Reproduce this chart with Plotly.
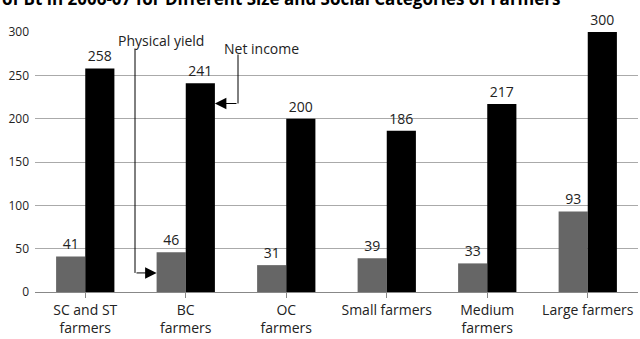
import plotly.graph_objects as go

categories = ["SC and ST<br>farmers", "BC<br>farmers", "OC<br>farmers",
              "Small farmers", "Medium<br>farmers", "Large farmers"]
physical_yield = [41, 46, 31, 39, 33, 93]
net_income = [258, 241, 200, 186, 217, 300]
title_text = "of Bt in 2006-07 for Different Size and Social Categories of Farmers"

FONT = "Open Sans"
idx = list(range(len(categories)))

fig = go.Figure()
fig.add_trace(go.Bar(x=idx, y=physical_yield, name="Physical yield",
                     marker=dict(color="#666666", line=dict(width=0)),
                     text=physical_yield, textposition="outside",
                     textfont=dict(family=FONT, size=14, color="#222"),
                     constraintext="none", cliponaxis=False))
fig.add_trace(go.Bar(x=idx, y=net_income, name="Net income",
                     marker=dict(color="#000000", line=dict(width=0)),
                     text=net_income, textposition="outside",
                     textfont=dict(family=FONT, size=14, color="#222"),
                     constraintext="none", cliponaxis=False))

# elbow connector segments
line_style = dict(color="#000", width=1)
fig.add_shape(type="line", xref="x", yref="y", x0=0.495, x1=0.495, y0=281, y1=22, line=line_style)
fig.add_shape(type="line", xref="x", yref="y", x0=1.52, x1=1.52, y0=274, y1=217.5, line=line_style)

# arrowheads
fig.add_annotation(x=0.71, y=22, ax=0.495, ay=22, xref="x", yref="y", axref="x", ayref="y",
                   text="", showarrow=True, arrowhead=2, arrowsize=2.3, arrowwidth=1, arrowcolor="#000")
fig.add_annotation(x=1.29, y=217.5, ax=1.52, ay=217.5, xref="x", yref="y", axref="x", ayref="y",
                   text="", showarrow=True, arrowhead=2, arrowsize=2.3, arrowwidth=1, arrowcolor="#000")

# labels
fig.add_annotation(x=0.75, y=290, xref="x", yref="y", text="Physical yield", showarrow=False,
                   font=dict(family=FONT, size=14, color="#222"))
fig.add_annotation(x=1.75, y=281, xref="x", yref="y", text="Net income", showarrow=False,
                   font=dict(family=FONT, size=14, color="#222"))

# cropped title
fig.add_annotation(x=-35/603, y=1, xref="paper", yref="paper", xanchor="left", yanchor="bottom",
                   yshift=20, text="<b>" + title_text + "</b>", showarrow=False,
                   font=dict(family=FONT, size=17, color="#000"))

fig.update_layout(
    width=640, height=339,
    margin=dict(l=35, r=2, t=32, b=45),
    paper_bgcolor="white", plot_bgcolor="white",
    barmode="group", bargap=0.42, bargroupgap=0,
    showlegend=False,
    font=dict(family=FONT, size=14, color="#222"),
    xaxis=dict(tickmode="array", tickvals=idx, ticktext=categories,
               range=[-0.5, 5.5], showgrid=False, showline=True, linecolor="#888", linewidth=1,
               ticks="outside", ticklen=5, tickcolor="#888",
               tickfont=dict(family=FONT, size=14, color="#222")),
    yaxis=dict(range=[0, 300], tickvals=[0, 50, 100, 150, 200, 250, 300],
               showgrid=True, gridcolor="#aaaaaa", gridwidth=1, zeroline=False,
               showline=False, ticks="", ticklabelstandoff=5,
               tickfont=dict(family=FONT, size=12, color="#222")),
)

fig.write_html("out.html")
